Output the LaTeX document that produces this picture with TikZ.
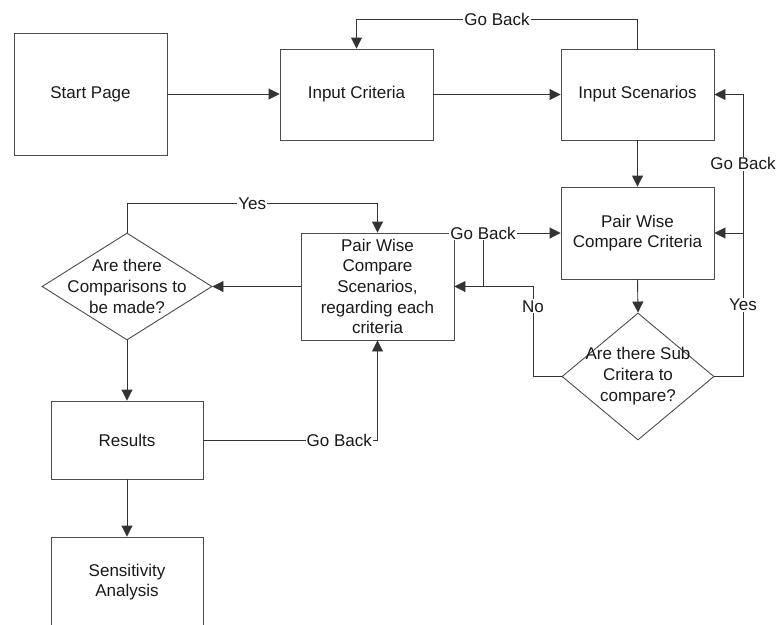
\documentclass[tikz,border=0pt]{standalone}
\usepackage{fontspec}
\setmainfont{Liberation Sans}
\usetikzlibrary{arrows.meta,shapes.geometric}
\begin{document}
\begin{tikzpicture}[x=1pt,y=-1pt,
  font=\fontsize{17}{20.7}\selectfont,
  box/.style={rectangle, draw=black!70, line width=0.9pt, minimum width=153pt,
              inner sep=0pt, align=center, text=black!90},
  dia/.style={diamond, draw=black!70, line width=0.9pt, inner sep=0pt},
  txt/.style={align=center, inner sep=0pt, text=black!90},
  lab/.style={fill=white, inner sep=1pt, text=black!90},
  conn/.style={draw=black!80, line width=0.9pt},
  arr/.style={conn, -{Triangle[length=11pt,width=11pt]}},
]
\useasboundingbox (0,0) rectangle (778,624);

% process boxes
\node[box, minimum height=122pt] (start) at (90.5,94) {Start Page};
\node[box, minimum height=91pt] (ic) at (356.5,94.5) {Input Criteria};
\node[box, minimum height=91pt] (is) at (637.5,94.5) {Input Scenarios};
\node[box, minimum height=92pt] (pwcc) at (637.5,233) {Pair Wise\\Compare Criteria};
\node[box, minimum height=107pt] (pws) at (377.5,286.5)
  {Pair Wise\\Compare\\Scenarios,\\regarding each\\criteria};
\node[box, minimum width=152pt, minimum height=78pt] (res) at (127,440) {Results};
\node[box, minimum width=152pt, minimum height=100pt] (sens) at (127,587) {};
\node[txt] (senst) at (127,582) {Sensitivity\\Analysis};

% decisions
\node[dia, minimum width=152pt, minimum height=127pt] (d2) at (638,376.5) {};
\node[txt] (d2t) at (638,376) {Are there Sub\\Critera to\\compare?};
\node[dia, minimum width=170pt, minimum height=107pt] (d1) at (127,286.5) {};
\node[txt] (d1t) at (127,286.5) {Are there\\Comparisons to\\be made?};

% helper points for the loops
\coordinate (yR) at (743,376.5);
\coordinate (gbR) at (743,233);
\coordinate (noC) at (533,376.5);
\coordinate (gbM) at (483,286.5);

% main flow
\draw[arr] (start.east) -- (start.east -| ic.west);
\draw[arr] (ic.east) -- (ic.east -| is.west);
\draw[arr] (is.south) -- (pwcc.north);
\draw[arr] (pwcc.south) -- (d2.north);
\draw[arr] (pws.west) -- (d1.east);
\draw[arr] (d1.south) -- (res.north);
\draw[arr] (res.south) -- (sens.north);

% loops
\draw[arr] (is.north) -- ++(0,-29) -| (ic.north) node[lab, pos=0.25] (gb1) {Go Back};
\draw[arr] (d2.east) -- (yR) |- (pwcc.east) node[lab, pos=0.25] (yes2) {Yes};
\draw[arr] (gbR) |- (is.east) node[lab, pos=0.25] (gb2) {Go Back};
\draw[arr] (d2.west) -- (noC) |- (pws.east) node[lab, pos=0.39] (no) {No};
\draw[arr] (gbM) |- (pwcc.west) node[lab, pos=0.5] (gb3) {Go Back};
\draw[arr] (d1.north) -- ++(0,-29) -| (pws.north) node[lab, pos=0.25] (yes1) {Yes};
\draw[arr] (res.east) -| (pws.south) node[lab, pos=0.39] (gb4) {Go Back};
\end{tikzpicture}
\end{document}
